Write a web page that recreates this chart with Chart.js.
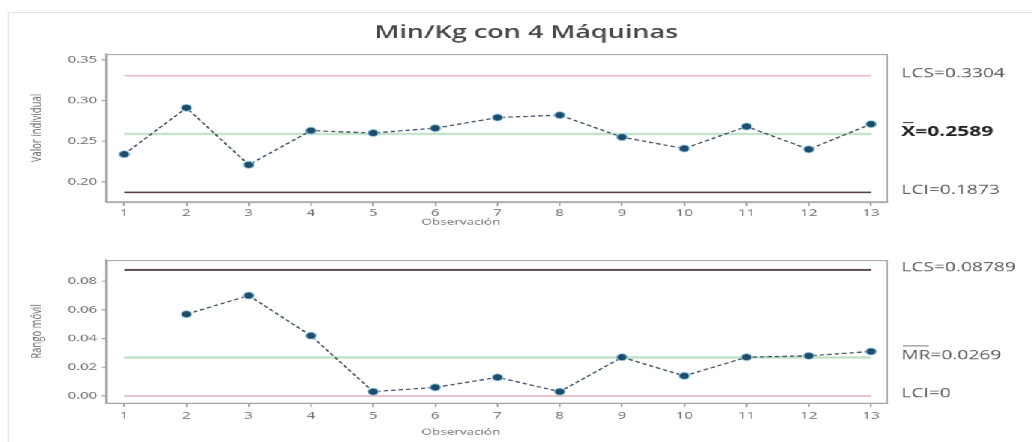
<!DOCTYPE html>
<html>
<head>
<meta charset="utf-8">
<script src="https://cdn.jsdelivr.net/npm/chart.js@4.4.1/dist/chart.umd.min.js"></script>
<style>
  html, body { margin: 0; padding: 0; background: #fff; overflow: hidden; }
  /* panels are laid out at 2/3 width and widened 1.5x */
  #wrap { position: absolute; left: 0; top: 0; width: 688px; height: 442px; transform: scaleX(1.5); transform-origin: 0 0; }
  #frame { position: absolute; left: 5px; top: 12px; right: -10px; bottom: -10px; border-left: 1px solid #e4e4e4; border-top: 1px solid #e4e4e4; }
  canvas { position: absolute; left: 0; }
  #panelI { top: 0; }
  #panelMR { top: 240px; }
</style>
</head>
<body>
<div id="wrap">
  <div id="frame"></div>
  <canvas id="panelI" width="688" height="240"></canvas>
  <canvas id="panelMR" width="688" height="202"></canvas>
</div>
<script>
// Observations and individual values (Min/Kg)
const observaciones = [1, 2, 3, 4, 5, 6, 7, 8, 9, 10, 11, 12, 13];
const valorIndividual = [0.234, 0.291, 0.221, 0.263, 0.260, 0.266, 0.279, 0.282, 0.255, 0.241, 0.268, 0.240, 0.271];

// Moving ranges start at the second observation
const observacionesMR = [2, 3, 4, 5, 6, 7, 8, 9, 10, 11, 12, 13];
const rangoMovil = [0.057, 0.070, 0.042, 0.003, 0.006, 0.013, 0.003, 0.027, 0.014, 0.027, 0.028, 0.031];

// Control limits
const lcsI = 0.3304;
const mediaI = 0.2589;
const lciI = 0.1873;
const lcsMR = 0.08789;
const mediaMR = 0.0269;
const lciMR = 0;

// Y tick labels
const ticksI = [0.20, 0.25, 0.30, 0.35];
const ticksMR = [0.00, 0.02, 0.04, 0.06, 0.08];

const FONT = '"Open Sans", "DejaVu Sans", sans-serif';
const PINK = '#e4b3b8';
const DARK = '#3d2426';
const GREEN = 'rgba(170, 215, 178, 0.7)';
const LINE = '#34475a';
const POINT = '#1f4d69';

function flat(value) {
  return [{ x: observaciones[0], y: value }, { x: observaciones[observaciones.length - 1], y: value }];
}

function limitDataset(value, color, width) {
  return {
    data: flat(value), borderColor: color, borderWidth: width,
    pointRadius: 0, pointHoverRadius: 0, fill: false, tension: 0
  };
}

// frame around the plotting area plus axis title, main title and limit labels
const decorations = {
  id: 'decorations',
  beforeDatasetsDraw(chart) {
    const { ctx, chartArea: a } = chart;
    ctx.save();
    ctx.strokeStyle = '#a3a3a3';
    ctx.lineWidth = 1;
    ctx.strokeRect(a.left + 0.5, a.top + 0.5, a.right - a.left - 1, a.bottom - a.top);
    ctx.restore();
  },
  afterDraw(chart, args, o) {
    const { ctx, chartArea: a } = chart;
    const y = chart.scales.y;
    ctx.save();
    if (o.title) {
      ctx.font = '600 18px ' + FONT;
      ctx.fillStyle = '#474747';
      ctx.textAlign = 'center';
      ctx.textBaseline = 'middle';
      ctx.fillText(o.title, 351, 33);
    }
    ctx.font = '9px ' + FONT;
    ctx.fillStyle = '#6a6a6a';
    ctx.textAlign = 'center';
    ctx.textBaseline = 'middle';
    ctx.fillText('Observación', (a.left + a.right) / 2 - 24, a.bottom + o.xTitleGap);

    ctx.textAlign = 'left';
    const x0 = a.right + 9;
    o.labels.forEach(l => {
      const py = y.getPixelForValue(l.value) - 2;
      ctx.font = (l.bold ? 'bold 14px ' : '12.8px ') + FONT;
      ctx.fillStyle = l.bold ? '#222' : '#555';
      ctx.fillText(l.text, x0, py);
      if (l.bar) {
        const w = ctx.measureText(l.bar).width;
        ctx.strokeStyle = l.bold ? '#333' : '#888';
        ctx.lineWidth = 1;
        ctx.beginPath();
        ctx.moveTo(x0 + 1, py - 9.5);
        ctx.lineTo(x0 + w - 1, py - 9.5);
        ctx.stroke();
      }
    });
    ctx.restore();
  }
};

function panel(id, cfg) {
  return new Chart(document.getElementById(id), {
    type: 'line',
    data: {
      datasets: [
        {
          data: cfg.xs.map((x, i) => ({ x, y: cfg.values[i] })),
          borderColor: LINE, borderWidth: 1.2, borderDash: [3, 2],
          pointRadius: 3.5, pointBackgroundColor: POINT,
          pointBorderColor: 'rgba(150, 205, 235, 0.8)', pointBorderWidth: 1,
          fill: false, tension: 0
        },
        limitDataset(cfg.media, GREEN, 2.5),
        limitDataset(cfg.lcs, cfg.lcsColor, 1.4),
        limitDataset(cfg.lci, cfg.lciColor, 1.4)
      ]
    },
    options: {
      responsive: false,
      animation: false,
      devicePixelRatio: 1.5,
      layout: { padding: { left: 19, right: 96, top: cfg.top, bottom: 0 } },
      plugins: {
        legend: { display: false },
        tooltip: { enabled: false },
        decorations: { title: cfg.title, labels: cfg.labels, xTitleGap: cfg.xTitleGap }
      },
      scales: {
        x: {
          type: 'linear', min: 0.71, max: 13.27,
          afterBuildTicks: s => { s.ticks = observaciones.map(v => ({ value: v })); },
          afterFit: s => { s.height = cfg.xHeight; },
          ticks: { font: { family: FONT, size: 10 }, color: '#666', padding: cfg.xPad, maxRotation: 0, autoSkip: false },
          grid: { display: true, drawOnChartArea: false, drawTicks: true, tickLength: 4, color: '#999' },
          border: { display: true, color: '#a3a3a3' }
        },
        y: {
          min: cfg.yMin, max: cfg.yMax,
          afterBuildTicks: s => { s.ticks = cfg.ticks.map(v => ({ value: v })); },
          afterFit: s => { s.width = 51.7; },
          ticks: { font: { family: FONT, size: 10 }, color: '#666', padding: 3, callback: v => v.toFixed(2) },
          grid: { display: true, drawOnChartArea: false, drawTicks: true, tickLength: 3, color: '#999' },
          border: { display: true, color: '#a3a3a3' },
          title: { display: true, text: cfg.yTitle, font: { family: FONT, size: 9.5 }, color: '#666', padding: { top: 0, bottom: 0 } }
        }
      }
    },
    plugins: [decorations]
  });
}

panel('panelI', {
  title: 'Min/Kg con 4 Máquinas',
  xs: observaciones, values: valorIndividual,
  media: mediaI, lcs: lcsI, lci: lciI, lcsColor: PINK, lciColor: DARK,
  yMin: 0.1754, yMax: 0.357, ticks: ticksI, yTitle: 'Valor individual',
  top: 54, xHeight: 38, xPad: 1, xTitleGap: 20,
  labels: [
    { text: 'LCS=' + lcsI, value: lcsI },
    { text: 'X=' + mediaI, value: mediaI, bold: true, bar: 'X' },
    { text: 'LCI=' + lciI, value: lciI }
  ]
});

panel('panelMR', {
  title: null,
  xs: observacionesMR, values: rangoMovil,
  media: mediaMR, lcs: lcsMR, lci: lciMR, lcsColor: DARK, lciColor: PINK,
  yMin: -0.0049, yMax: 0.0948, ticks: ticksMR, yTitle: 'Rango móvil',
  top: 20, xHeight: 39, xPad: 3, xTitleGap: 29,
  labels: [
    { text: 'LCS=' + lcsMR, value: lcsMR },
    { text: 'MR=' + mediaMR, value: mediaMR, bar: 'MR' },
    { text: 'LCI=' + lciMR, value: lciMR }
  ]
});
</script>
</body>
</html>
